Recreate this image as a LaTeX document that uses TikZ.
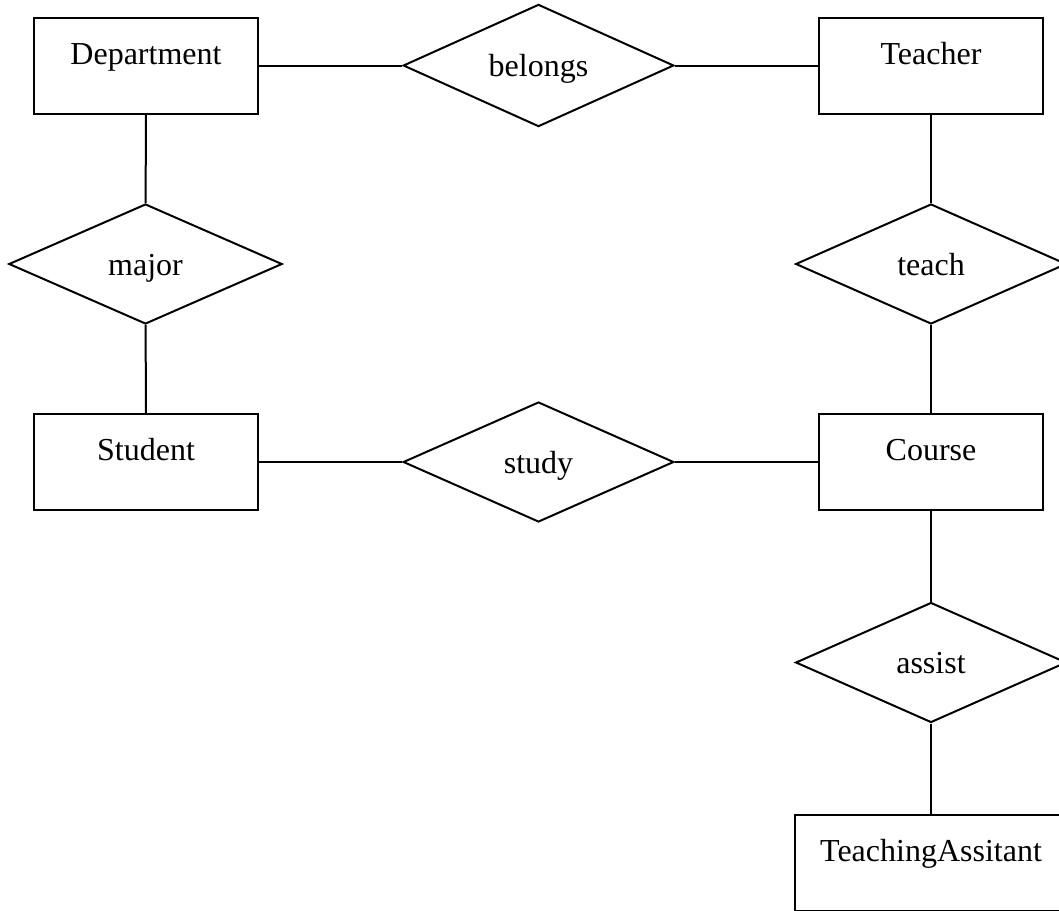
\documentclass[tikz,border=0pt]{standalone}
\usepackage{fontspec}
\setmainfont{Liberation Serif}
\usepackage{tikz}
\usetikzlibrary{shapes.geometric}
\begin{document}
\begin{tikzpicture}[x=0.75pt,y=-0.75pt,line width=1.5pt,
entity/.style={draw,rectangle,minimum width=168pt,minimum height=72pt,inner sep=0pt,text height=16pt,text depth=18pt,font=\fontsize{24}{28}\selectfont},
relation/.style={draw,diamond,minimum width=203pt,minimum height=90pt,inner sep=0pt,text height=17pt,text depth=-1pt,font=\fontsize{24}{28}\selectfont}]
\useasboundingbox(0,0)rectangle(1059,910);
\clip(0,0)rectangle(1059,910);
\node[entity](dept)at(146,65.5){Department};
\node[entity](teacher)at(931,65.5){Teacher};
\node[relation](belongs)at(538.5,65.5){belongs};
\node[relation,minimum width=205pt](major)at(145.5,264){major};
\node[relation](teach)at(931,264){teach};
\node[entity](student)at(146,462){Student};
\node[relation](study)at(538.5,462){study};
\node[entity](course)at(931,462){Course};
\node[relation](assist)at(931,662.5){assist};
\node[entity,minimum width=204pt](ta)at(931,863){TeachingAssitant};
\draw(dept)--(belongs);
\draw(belongs)--(teacher);
\draw(dept)--(major);
\draw(major)--(student);
\draw(teacher)--(teach);
\draw(teach)--(course);
\draw(student)--(study);
\draw(study)--(course);
\draw(course)--(assist);
\draw(assist)--(ta);
\end{tikzpicture}
\end{document}
